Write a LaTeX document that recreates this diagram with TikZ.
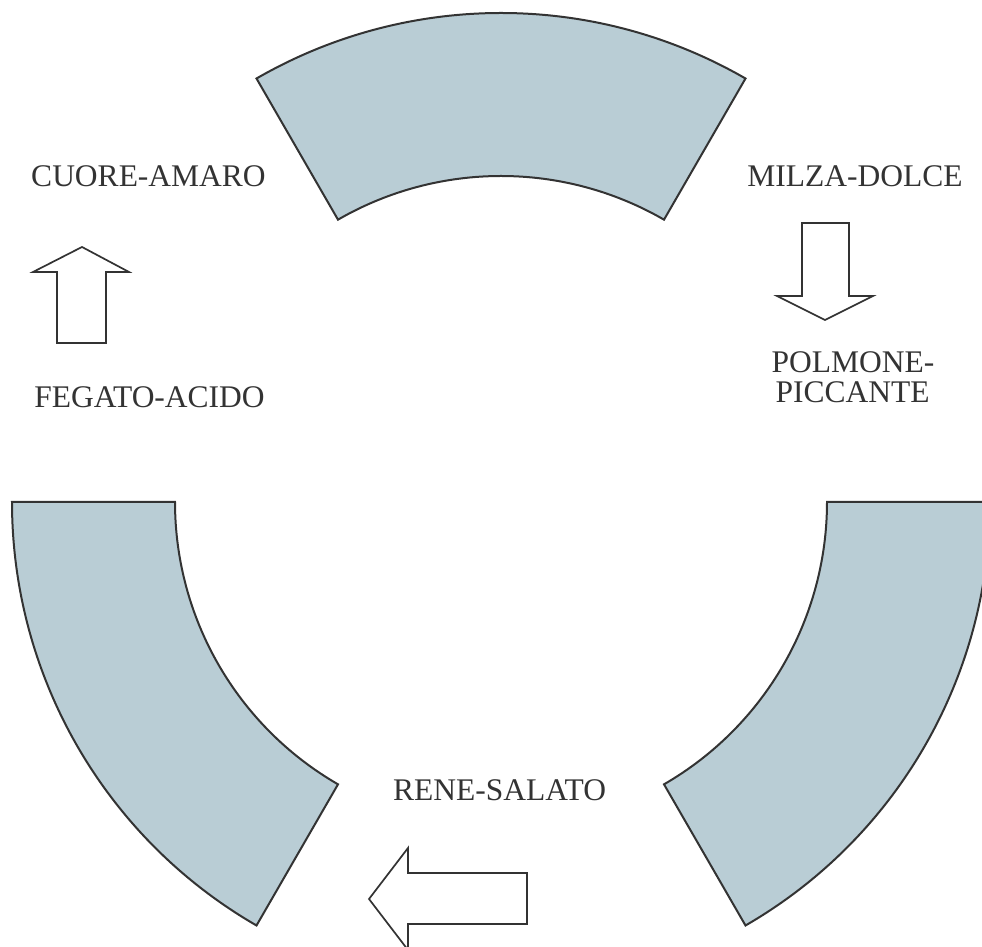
\documentclass[tikz,border=0pt]{standalone}
\usepackage{fontspec}
\setmainfont{Liberation Serif}
\usetikzlibrary{calc}
\definecolor{ringfill}{RGB}{185,205,213}
\definecolor{ink}{RGB}{51,51,51}
\begin{document}
\begin{tikzpicture}[x=1pt,y=1pt,
  seg/.style={fill=ringfill,draw=ink,line width=2pt,line join=miter},
  blockarrow/.style={draw=ink,line width=1.7pt,fill=white,line join=miter},
  lbl/.style={font=\fontsize{31.5}{30}\selectfont,text=ink,inner sep=0pt,anchor=base}]
\clip (0,0) rectangle (982,947);
\coordinate (c) at (501,445);
% ring segments
\draw[seg] ($(c)+(60:489pt)$) arc[start angle=60,end angle=120,radius=489pt]
  -- ($(c)+(120:326pt)$) arc[start angle=120,end angle=60,radius=326pt] -- cycle;
\draw[seg] ($(c)+(180:489pt)$) arc[start angle=180,end angle=240,radius=489pt]
  -- ($(c)+(240:326pt)$) arc[start angle=240,end angle=180,radius=326pt] -- cycle;
\draw[seg] ($(c)+(300:489pt)$) arc[start angle=300,end angle=360,radius=489pt]
  -- ($(c)+(360:326pt)$) arc[start angle=360,end angle=300,radius=326pt] -- cycle;
% block arrows
\draw[blockarrow] (57,604) -- (57,675) -- (33,675) -- (82,700) -- (129,675) -- (106,675) -- (106,604) -- cycle;
\draw[blockarrow] (802,724) -- (849,724) -- (849,651) -- (873,651) -- (825,627) -- (777,651) -- (802,651) -- cycle;
\draw[blockarrow] (527,74) -- (408,74) -- (408,99) -- (369,48) -- (408,-3) -- (408,23) -- (527,23) -- cycle;
% labels
\node[lbl] (cuore) at (148.5,760) {CUORE-AMARO};
\node[lbl] (fegato) at (149.5,539) {FEGATO-ACIDO};
\node[lbl] (milza) at (855,760) {MILZA-DOLCE};
\node[lbl] (polmone) at (853,574) {POLMONE-};
\node[lbl] (piccante) at (852.5,544) {PICCANTE};
\node[lbl,anchor=base west] (rene) at (393,146) {RENE-SALATO};
\end{tikzpicture}
\end{document}
